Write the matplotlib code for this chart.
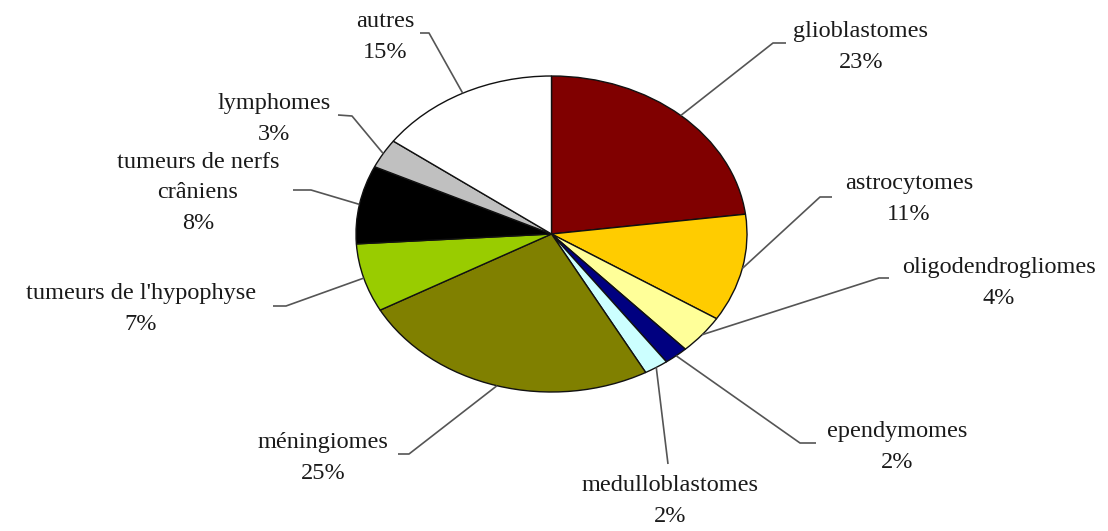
import numpy as np
import matplotlib.pyplot as plt

# répartition des tumeurs cérébrales
labels = ["glioblastomes", "astrocytomes", "oligodendrogliomes", "ependymomes",
          "medulloblastomes", "méningiomes", "tumeurs de l'hypophyse",
          "tumeurs de nerfs\ncrâniens", "lymphomes", "autres"]
values = [23, 11, 4, 2, 2, 25, 7, 8, 3, 15]
colors = ["#800000", "#FFCC00", "#FFFF99", "#000080", "#CCFFFF",
          "#808000", "#99CC00", "#000000", "#C0C0C0", "#FFFFFF"]

# label placement in pixels: text centre, elbow of the leader, end of the leader
text_pos = [(861, 47), (909, 199), (999, 283), (897, 447), (670, 501),
            (323, 458), (141, 309), (198, 193), (274, 119), (385, 37)]
elbow = [(773, 43), (820, 197), (879, 278), (800, 443), (668, 464),
         (409, 454), (286, 306), (311, 190), (352, 116), (429, 33)]
tail = [(786, 43), (832, 197), (889, 278), (816, 443), (668, 464),
        (398, 454), (273, 306), (293, 190), (338, 115), (420, 33)]

W, H = 1108, 531
cx, cy = 551.5, 234      # pie centre (px)
rx, ry = 195.5, 158      # pie radii (px)

def px(p):
    return ((p[0] - cx) / rx, (cy - p[1]) / ry)

plt.rcParams['font.family'] = ['Liberation Serif', 'DejaVu Serif']

fig = plt.figure(figsize=(W / 100, H / 100), dpi=100)
ax = fig.add_axes([0, 0, 1, 1])
wedges, _ = ax.pie(values, colors=colors, startangle=90, counterclock=False,
                   radius=1, center=(0, 0),
                   wedgeprops=dict(edgecolor='#111111', linewidth=1.0))
ax.set_aspect('auto')
ax.set_xlim(-cx / rx, (W - cx) / rx)
ax.set_ylim((cy - H) / ry, cy / ry)
ax.axis('off')

for w, lab, v, tp, el, tl in zip(wedges, labels, values, text_pos, elbow, tail):
    mid = np.deg2rad((w.theta1 + w.theta2) / 2)
    edge = (np.cos(mid), np.sin(mid))
    e, t = px(el), px(tl)
    ax.plot([edge[0], e[0], t[0]], [edge[1], e[1], t[1]],
            color='#555555', lw=1.2, solid_capstyle='butt')
    x, y = px(tp)
    ax.text(x, y, f"{lab}\n{v}%", ha='center', va='center', fontsize=17.5,
            color='#1a1a1a', linespacing=1.62)

fig.savefig("out.png", dpi=100, facecolor='white')
